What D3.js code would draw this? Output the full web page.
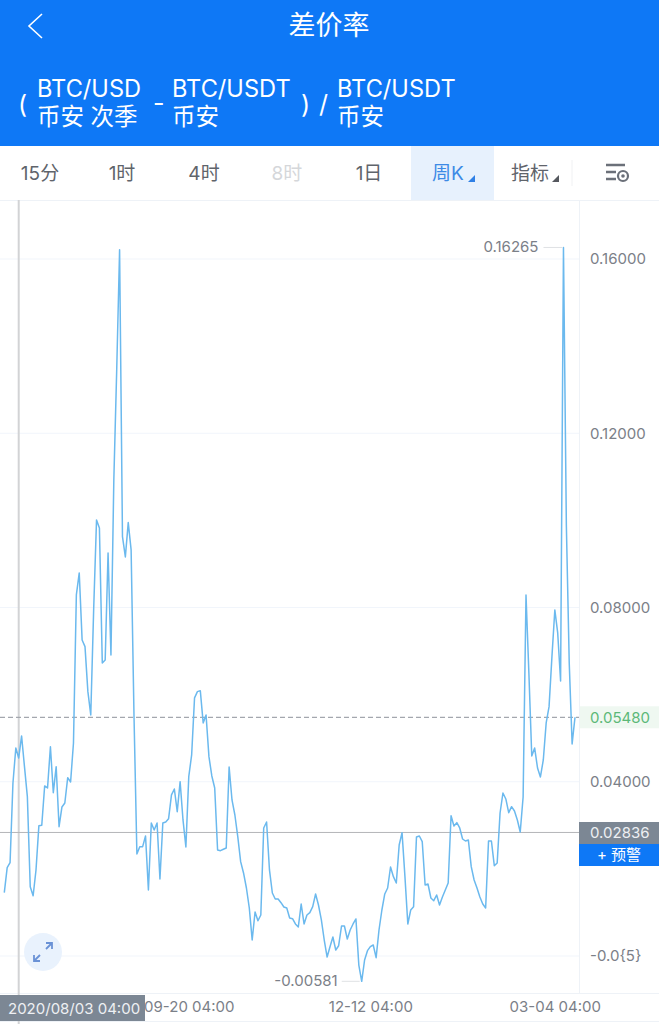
<!DOCTYPE html>
<html>
<head>
<meta charset="utf-8">
<title>差价率</title>
<script src="https://cdn.jsdelivr.net/npm/d3@7"></script>
<style>
  html, body { margin: 0; padding: 0; background: #fff; }
  svg { display: block; }
  text { font-family: Inter, "Noto Sans CJK SC", sans-serif; }
  .axis path, .axis line { display: none; }
  .axis text { font-size: 15px; fill: #7b8088; font-family: Inter, "Noto Sans CJK SC", sans-serif; }
</style>
</head>
<body>
<div id="chart"></div>
<script>
const width = 659, height = 1024;

// spread rate, one value per candle
const rates = [
  .01453,.02027,.02142,.03972,.04776,.04546,.05051,.04346,.03658,.01591,
  .01384,.01975,.02992,.03001,.03903,.03857,.04805,.03749,.04346,.02969,
  .03421,.03513,.04094,.03995,.04890,.08289,.08794,.07255,.07102,.06068,
  .05533,.07944,.10011,.09827,.06727,.06796,.09253,.06911,.10929,.13455,
  .16210,.09627,.09161,.09949,.09322,.05510,.02342,.02510,.02510,.02755,
  .01515,.03054,.02893,.03054,.01768,.03054,.03077,.03152,.03697,.03834,
  .03313,.04002,.03123,.02503,.04117,.04615,.05924,.06068,.06091,.05350,
  .05533,.04576,.04133,.03857,.02434,.02418,.02450,.02480,.04339,.03582,
  .03237,.02739,.02165,.01906,.01561,.01102,.00367,.01010,.00810,.00941,
  .02939,.03077,.01975,.01446,.01309,.01309,.01224,.01125,.01102,.00872,
  .00856,.00735,.00666,.01194,.00735,.00941,.00994,.01132,.01424,.01171,
  .00827,.00367,-.00023,.00214,.00436,.00138,.00236,.00689,.00689,.00390,
  .00597,.00735,.00850,-.00207,-.00581,-.00092,.00122,.00214,.00253,-.00039,
  .00597,.01056,.01424,.01561,.02043,.01821,.01676,.02549,.02831,.01821,
  .00735,.01056,.01132,.02732,.02755,.02624,.01630,.01653,.01332,.01270,
  .01401,.01171,.01355,.01515,.01676,.03221,.02985,.03061,.02939,.02686,
  .02640,.02663,.02050,.01745,.01561,.01355,.01194,.01102,.02640,.02640,
  .02073,.02135,.03283,.03742,.03605,.03290,.03428,.03329,.03123,.02847,
  .03651,.08289,.06498,.04592,.04776,.04316,.04110,.04500,.05350,.05724,
  .06872,.07944,.07416,.06314,.16265,.09896,.06727,.04868,.05480
];

const yTicks = [0.16, 0.12, 0.08, 0.04, 0];
const yTickLabels = ["0.16000", "0.12000", "0.08000", "0.04000", "-0.0{5}"];
const xTickIndex = [64, 127, 191];
const xTickLabels = ["09-20 04:00", "12-12 04:00", "03-04 04:00"];

const crossIndex = 5, crossLabel = "2020/08/03 04:00";
const maxIndex = 194, minIndex = 124;
const lastPrice = 0.02836, currentRate = 0.05480;

const tabs = ["15分", "1时", "4时", "8时", "1日", "周K", "指标"];
const tabX = [40, 122, 204, 287, 369, 448, 530];

const blue = "#0e78f6";

const svg = d3.select("#chart").append("svg")
  .attr("width", width)
  .attr("height", height);

// header
svg.append("rect").attr("width", width).attr("height", 146).attr("fill", blue);
svg.append("path")
  .attr("d", "M42,14L29,26L42,38")
  .attr("fill", "none").attr("stroke", "#fff").attr("stroke-width", 1.6);
svg.append("text").attr("x", 329).attr("y", 35).attr("text-anchor", "middle")
  .attr("fill", "#fff").style("font-size", "27px").text("差价率");

const headerText = [
  ["(", 18, 113, 25], ["BTC/USD", 37, 97, 23.6], ["币安 次季", 37, 125, 23.5],
  ["-", 153, 112, 25], ["BTC/USDT", 172, 97, 23.6], ["币安", 172, 125, 23.5],
  [")", 301, 113, 25], ["/", 319, 113, 25], ["BTC/USDT", 337, 97, 23.6], ["币安", 337, 125, 23.5]
];
svg.selectAll("text.head").data(headerText).join("text")
  .attr("class", "head")
  .attr("x", d => d[1]).attr("y", d => d[2])
  .attr("fill", "#fff")
  .style("font-size", d => d[3] + "px")
  .text(d => d[0]);

// tab bar
svg.append("rect").attr("x", 411).attr("y", 146).attr("width", 83).attr("height", 54).attr("fill", "#e7f1fd");
svg.selectAll("text.tab").data(tabs).join("text")
  .attr("class", "tab")
  .attr("x", (d, i) => tabX[i]).attr("y", 180)
  .attr("text-anchor", "middle")
  .attr("fill", d => d == "8时" ? "#d5d7da" : d == "周K" ? "#3d8ae6" : "#5f646b")
  .style("font-size", "19px")
  .text(d => d);
svg.append("path").attr("d", "M468,182h7v-7z").attr("fill", "#2f80e6");
svg.append("path").attr("d", "M552,182h7v-7z").attr("fill", "#55585e");
svg.append("line").attr("x1", 572).attr("x2", 572).attr("y1", 160).attr("y2", 186).attr("stroke", "#f0f1f3");
// settings icon
svg.append("path")
  .attr("d", "M606,165h19M606,172h10M606,179h10")
  .attr("stroke", "#6b7079").attr("stroke-width", 2.6).attr("fill", "none");
svg.append("circle").attr("cx", 623).attr("cy", 176).attr("r", 5)
  .attr("fill", "#fff").attr("stroke", "#6b7079").attr("stroke-width", 2.2);
svg.append("circle").attr("cx", 623).attr("cy", 176).attr("r", 1.8).attr("fill", "#6b7079");

// scales
const x = d3.scaleLinear().domain([0, rates.length - 1]).range([4.3, 575]);
const y = d3.scaleLinear().domain([0, 0.16]).range([956, 259]);

// frame lines
const frame = svg.append("g").attr("stroke", "#eef2f7").attr("fill", "none");
frame.append("line").attr("x1", 0).attr("x2", width).attr("y1", 200.5).attr("y2", 200.5);
frame.append("line").attr("x1", 0).attr("x2", width).attr("y1", 993.5).attr("y2", 993.5);
frame.append("line").attr("x1", 0).attr("x2", width).attr("y1", 1021.5).attr("y2", 1021.5);
frame.append("line").attr("x1", 579.5).attr("x2", 579.5).attr("y1", 200).attr("y2", 993);

// grid
svg.append("g").selectAll("line").data(yTicks).join("line")
  .attr("x1", 0).attr("x2", 579)
  .attr("y1", d => y(d)).attr("y2", d => y(d))
  .attr("stroke", "#f1f5fb");

// crosshair
svg.append("line")
  .attr("x1", x(crossIndex)).attr("x2", x(crossIndex))
  .attr("y1", 200).attr("y2", height)
  .attr("stroke", "#d2d3d5").attr("stroke-width", 2);

// current rate band and dashed line
svg.append("rect").attr("x", 580).attr("y", y(currentRate) - 11).attr("width", 79).attr("height", 22).attr("fill", "#eff8f1");
svg.append("line")
  .attr("x1", 0).attr("x2", 579)
  .attr("y1", y(currentRate)).attr("y2", y(currentRate))
  .attr("stroke", "#a4a7ae").attr("stroke-width", 1.2).attr("stroke-dasharray", "5,3");

// last price line
svg.append("line")
  .attr("x1", 0).attr("x2", 579)
  .attr("y1", y(lastPrice)).attr("y2", y(lastPrice))
  .attr("stroke", "#b4b5b8");

// rate line
const line = d3.line().x((d, i) => x(i)).y(d => y(d));
svg.append("path")
  .datum(rates)
  .attr("d", line)
  .attr("fill", "none")
  .attr("stroke", "#6bb9ee")
  .attr("stroke-width", 1.5)
  .attr("stroke-linejoin", "round");

// y axis
const yAxis = d3.axisRight(y)
  .tickValues(yTicks)
  .tickFormat((d, i) => yTickLabels[i])
  .tickSize(0).tickPadding(0);
svg.append("g").attr("class", "axis")
  .attr("transform", "translate(590,0)")
  .call(yAxis);

// right side labels
svg.append("text").attr("x", 590).attr("y", y(currentRate) + 5.5)
  .attr("fill", "#5cb878").style("font-size", "15px").text("0.05480");
svg.append("rect").attr("x", 579).attr("y", 822).attr("width", 80).attr("height", 22).attr("fill", "#7c8794");
svg.append("text").attr("x", 590).attr("y", 838)
  .attr("fill", "#eef0f3").style("font-size", "15px").text("0.02836");
svg.append("rect").attr("x", 579).attr("y", 844).attr("width", 80).attr("height", 22).attr("fill", blue);
svg.append("text").attr("x", 619).attr("y", 860).attr("text-anchor", "middle")
  .attr("fill", "#fff").style("font-size", "15px").text("+ 预警");

// x axis
const xAxis = d3.axisBottom(x)
  .tickValues(xTickIndex)
  .tickFormat((d, i) => xTickLabels[i])
  .tickSize(0).tickPadding(0);
svg.append("g").attr("class", "axis")
  .attr("transform", "translate(0,1001)")
  .call(xAxis);

// crosshair date box
svg.append("rect").attr("x", 0).attr("y", 995).attr("width", 145).attr("height", 26).attr("fill", "#7c8794");
svg.append("text").attr("x", 8).attr("y", 1013.5)
  .attr("fill", "#eef0f3").style("font-size", "15px").text(crossLabel);

// max and min callouts
svg.append("line")
  .attr("x1", x(maxIndex) - 20).attr("x2", x(maxIndex) - 1)
  .attr("y1", y(rates[maxIndex])).attr("y2", y(rates[maxIndex]))
  .attr("stroke", "#dfe1e4");
svg.append("text").attr("x", x(maxIndex) - 25).attr("y", y(rates[maxIndex]) + 5)
  .attr("text-anchor", "end").attr("fill", "#7b8088").style("font-size", "15px")
  .text(rates[maxIndex].toFixed(5));
svg.append("line")
  .attr("x1", x(minIndex) - 20).attr("x2", x(minIndex) - 2)
  .attr("y1", y(rates[minIndex])).attr("y2", y(rates[minIndex]))
  .attr("stroke", "#dfe1e4");
svg.append("text").attr("x", x(minIndex) - 24).attr("y", y(rates[minIndex]) + 5)
  .attr("text-anchor", "end").attr("fill", "#7b8088").style("font-size", "15px")
  .text(rates[minIndex].toFixed(5));

// expand button
svg.append("circle").attr("cx", 43).attr("cy", 952).attr("r", 19).attr("fill", "#e9f2fd");
svg.append("path")
  .attr("d", "M46,949L52,943M46,943H52V949M40,955L34,961M34,955V961H40")
  .attr("fill", "none").attr("stroke", "#6a92d6").attr("stroke-width", 1.8);
</script>
</body>
</html>
